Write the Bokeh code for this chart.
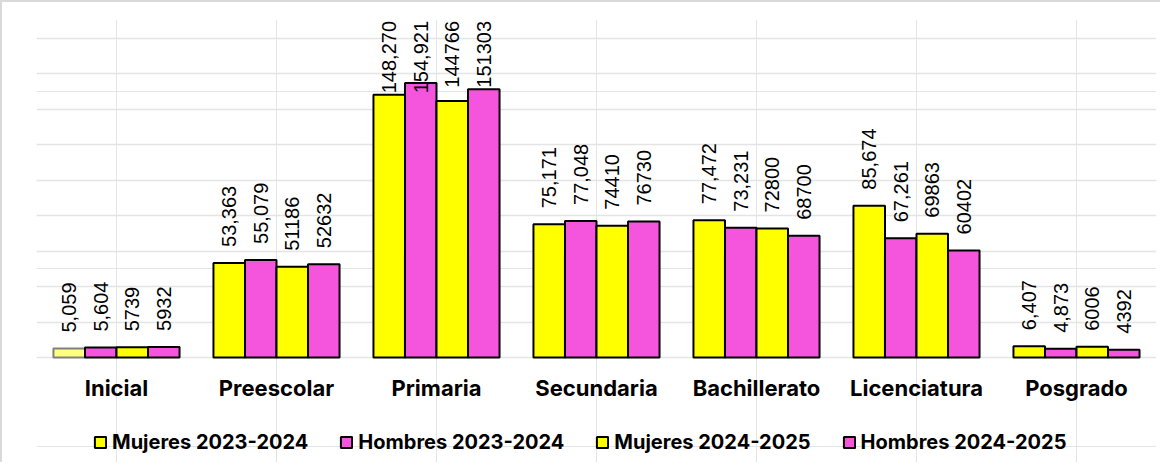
import numpy as np
from bokeh.plotting import figure
from bokeh.models import ColumnDataSource, Range1d, Legend, LegendItem, FixedTicker, Grid
from bokeh.transform import dodge
from bokeh.core.properties import value
from bokeh.embed import file_html
from bokeh.resources import INLINE

categories = ["Inicial", "Preescolar", "Primaria", "Secundaria",
              "Bachillerato", "Licenciatura", "Posgrado"]
series_names = ["Mujeres 2023-2024", "Hombres 2023-2024",
                "Mujeres 2024-2025", "Hombres 2024-2025"]
mujeres_2023 = [5059, 53363, 148270, 75171, 77472, 85674, 6407]
hombres_2023 = [5604, 55079, 154921, 77048, 73231, 67261, 4873]
mujeres_2024 = [5739, 51186, 144766, 74410, 72800, 69863, 6006]
hombres_2024 = [5932, 52632, 151303, 76730, 68700, 60402, 4392]
labels_m23 = ["5,059", "53,363", "148,270", "75,171", "77,472", "85,674", "6,407"]
labels_h23 = ["5,604", "55,079", "154,921", "77,048", "73,231", "67,261", "4,873"]
labels_m24 = ["5739", "51186", "144766", "74410", "72800", "69863", "6006"]
labels_h24 = ["5932", "52632", "151303", "76730", "68700", "60402", "4392"]
y_ticks = list(range(0, 180001, 20000))
y_max = 180000

# highlighted (selected-looking) bar in the original
highlight = ("Inicial", "Mujeres 2023-2024")

YELLOW = "#FFFF00"
MAGENTA = "#F455DC"
PALE = "#FFFF80"
series_vals = [mujeres_2023, hombres_2023, mujeres_2024, hombres_2024]
series_labels = [labels_m23, labels_h23, labels_m24, labels_h24]
series_colors = [YELLOW, MAGENTA, YELLOW, MAGENTA]

# canvas geometry (pixels)
W, H = 1160, 462
frame_left, frame_right = 34, 1154
frame_top, frame_bottom = 17, H
zero_px, ymax_px = 355, 36          # canvas rows of y=0 and y=y_max
upp = y_max / (zero_px - ymax_px)   # data units per pixel
y_end = (zero_px - frame_top) * upp
y_start = -(frame_bottom - zero_px) * upp
gap_px = 16
top_limit = y_end - 1.5 * upp
LABEL_PX = 20

p = figure(x_range=categories, y_range=Range1d(y_start, y_end), width=W, height=H,
           output_backend="svg", toolbar_location=None,
           x_axis_location=None, y_axis_location=None,
           min_border_left=frame_left, min_border_right=W - frame_right,
           min_border_top=frame_top, min_border_bottom=0)
p.outline_line_color = None
p.background_fill_color = "white"
p.border_fill_color = "white"
p.styles = {"border-top": "2px solid #d9d9d9", "border-left": "2px solid #d9d9d9"}

grid = Grid(dimension=1, ticker=FixedTicker(ticks=y_ticks),
            grid_line_color="#e4e4e4", grid_line_width=1.5)
p.add_layout(grid)

bw = 0.197
offsets = [-1.5 * bw, -0.5 * bw, 0.5 * bw, 1.5 * bw]
renderers = []
for k in range(4):
    vals = series_vals[k]
    labs = series_labels[k]
    fc, lc = [], []
    for c in categories:
        if (c, series_names[k]) == highlight:
            fc.append(PALE)
            lc.append("#808080")
        else:
            fc.append(series_colors[k])
            lc.append("black")
    ly = []
    for v, t in zip(vals, labs):
        length = (sum(ch.isdigit() for ch in t) * 0.556 + t.count(",") * 0.278) * LABEL_PX * upp
        y0 = v + gap_px * upp
        if y0 + length > top_limit:
            y0 = top_limit - length
        ly.append(y0)
    src = ColumnDataSource(dict(cat=categories, val=vals, lab=labs, fc=fc, lc=lc, ly=ly))
    r = p.vbar(x=dodge("cat", offsets[k], range=p.x_range), top="val", width=bw,
               fill_color="fc", line_color="lc", line_width=2, source=src)
    renderers.append(r)
    p.text(x=dodge("cat", offsets[k], range=p.x_range), y="ly", text="lab",
           angle=np.pi / 2, text_align="left", text_baseline="middle",
           text_font=value("Liberation Sans"), text_font_size=f"{LABEL_PX}px",
           text_color="black", source=src)

# category labels under the baseline
cat_src = ColumnDataSource(dict(cat=categories, y=[-30 * upp] * len(categories)))
p.text(x="cat", y="y", text="cat", source=cat_src,
       text_align="center", text_baseline="middle",
       text_font=value("Inter"), text_font_style="bold", text_font_size="22px",
       text_color="black")

items = [LegendItem(label=series_names[k], renderers=[renderers[k]], index=1) for k in range(4)]
legend = Legend(items=items, orientation="horizontal", location=(57, 10),
                glyph_width=14, glyph_height=14, label_standoff=5, spacing=31,
                label_text_font="Inter", label_text_font_style="bold",
                label_text_font_size="20px", label_text_color="black",
                border_line_color=None, background_fill_alpha=0,
                margin=0, padding=5)
p.add_layout(legend, "center")

open("out.html", "w").write(file_html(p, INLINE))
